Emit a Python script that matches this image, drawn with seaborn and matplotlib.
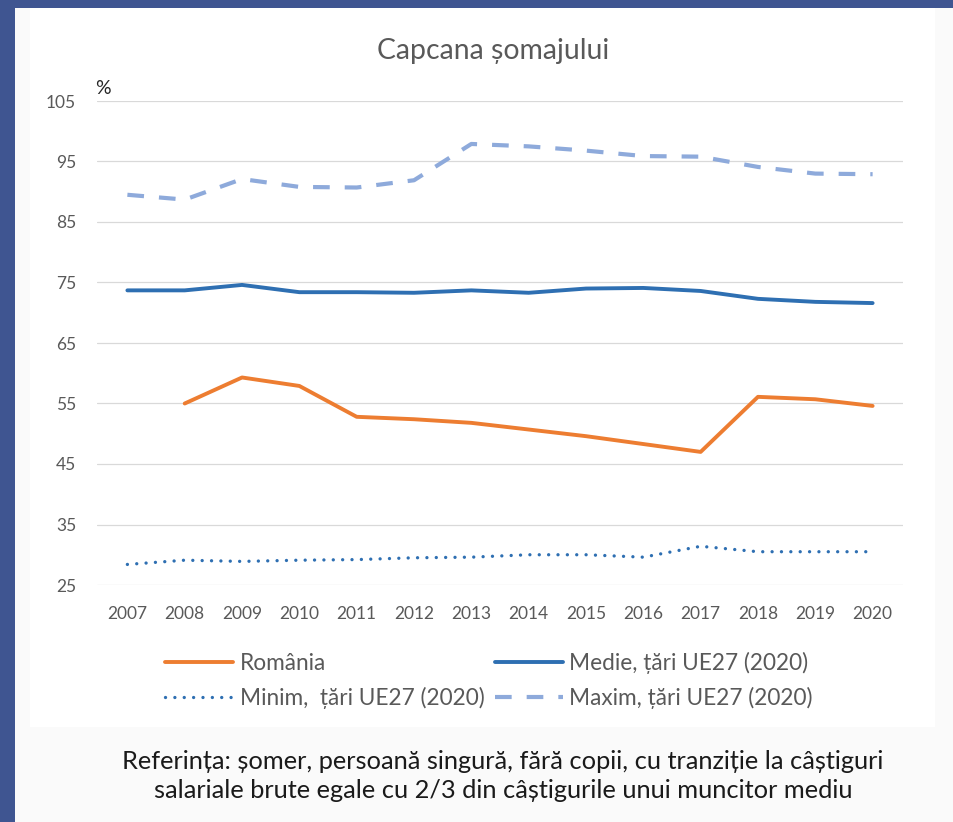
import numpy as np
import pandas as pd
import matplotlib
matplotlib.use("Agg")
import matplotlib.pyplot as plt
from matplotlib.patches import Rectangle
import seaborn as sns

years = [2007, 2008, 2009, 2010, 2011, 2012, 2013, 2014, 2015, 2016, 2017, 2018, 2019, 2020]
romania = [np.nan, 55.0, 59.3, 57.9, 52.8, 52.4, 51.8, 50.7, 49.6, 48.3, 47.0, 56.1, 55.7, 54.6]
medie = [73.7, 73.7, 74.6, 73.4, 73.4, 73.3, 73.7, 73.3, 74.0, 74.1, 73.6, 72.3, 71.8, 71.6]
minim = [28.4, 29.1, 28.9, 29.1, 29.2, 29.5, 29.6, 30.0, 30.0, 29.6, 31.4, 30.5, 30.5, 30.5]
maxim = [89.5, 88.7, 92.1, 90.8, 90.7, 91.9, 97.9, 97.5, 96.8, 95.9, 95.8, 94.1, 93.0, 92.9]
yticks = [25, 35, 45, 55, 65, 75, 85, 95, 105]

labels = {
    "romania": "România",
    "medie": "Medie, țări UE27 (2020)",
    "minim": "Minim,  țări UE27 (2020)",
    "maxim": "Maxim, țări UE27 (2020)",
}

df = pd.DataFrame({"year": years, "romania": romania, "medie": medie,
                   "minim": minim, "maxim": maxim})

sns.set_style("white")
plt.rcParams["font.family"] = ["Lato", "DejaVu Sans"]

W, H = 954, 822
fig = plt.figure(figsize=(W / 100, H / 100), dpi=100)
fig.patch.set_facecolor("#fafafa")

# slide background pieces
fig.patches.append(Rectangle((30 / W, 1 - 727 / H), 905 / W, 719 / H,
                             transform=fig.transFigure, facecolor="white",
                             edgecolor="none", zorder=-2))
fig.patches.append(Rectangle((0, 0), 15 / W, 1, transform=fig.transFigure,
                             facecolor="#3f5591", edgecolor="none", zorder=-1))
fig.patches.append(Rectangle((0, 1 - 8 / H), 1, 8 / H, transform=fig.transFigure,
                             facecolor="#3f5591", edgecolor="none", zorder=-1))

ax = fig.add_axes([97 / W, 1 - 585 / H, 806 / W, 484 / H])
ax.set_zorder(3)
ax.set_facecolor("none")

sns.lineplot(data=df, x="year", y="romania", ax=ax, color="#ed7d31",
             linewidth=2.8, label=labels["romania"], solid_capstyle="round")
sns.lineplot(data=df, x="year", y="medie", ax=ax, color="#2e6fb2",
             linewidth=2.8, label=labels["medie"], solid_capstyle="round")
sns.lineplot(data=df, x="year", y="minim", ax=ax, color="#2e6fb2",
             linewidth=2.4, label=labels["minim"],
             linestyle=(0, (0.01, 2.8)), dash_capstyle="round")
sns.lineplot(data=df, x="year", y="maxim", ax=ax, color="#8eaadb",
             linewidth=3.0, label=labels["maxim"],
             linestyle=(0, (4.0, 3.6)), dash_capstyle="butt")

ax.set_xlim(2006.47, 2020.53)
ax.set_ylim(25, 105)
ax.set_xticks(years)
ax.set_xticklabels([str(y) for y in years])
ax.set_yticks(yticks)
ax.set_xlabel("")
ax.set_ylabel("")
ax.grid(axis="y", color="#d9d9d9", linewidth=0.9)
ax.grid(axis="x", visible=False)
for s in ax.spines.values():
    s.set_visible(False)
ax.tick_params(axis="both", length=0, colors="#595959", labelsize=12.5)
ax.tick_params(axis="x", pad=15)
ax.tick_params(axis="y", pad=15)

lines = ax.get_lines()
h = {ln.get_label(): ln for ln in lines}
order = [labels["romania"], labels["minim"], labels["medie"], labels["maxim"]]
ax.legend_.remove()
fig.legend([h[k] for k in order], order, loc="upper center",
           bbox_to_anchor=(489 / W, 1 - 641 / H), ncol=2, frameon=False,
           fontsize=16.3, handlelength=3.0, handletextpad=0.3,
           columnspacing=0.45, labelspacing=0.55, borderpad=0,
           labelcolor="#595959")

fig.text(493 / W, 1 - 51 / H, "Capcana șomajului", ha="center", va="center",
         fontsize=20.4, color="#595959")
fig.text(95 / W, 1 - 88 / H, "%", ha="left", va="center", fontsize=14,
         color="#262626")

fig.text(503 / W, 1 - 776 / H,
         "Referința: șomer, persoană singură, fără copii, cu tranziție la câștiguri\n"
         "salariale brute egale cu 2/3 din câștigurile unui muncitor mediu",
         ha="center", va="center", fontsize=18.3, color="#1a1a1a",
         linespacing=1.3)

fig.savefig("out.png", dpi=100)
